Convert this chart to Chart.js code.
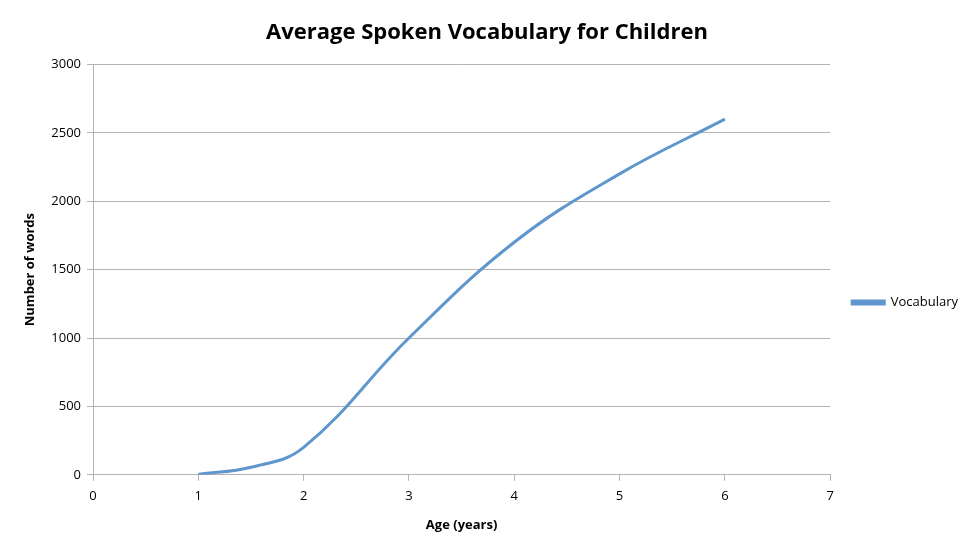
<!DOCTYPE html>
<html>
<head>
<meta charset="utf-8">
<script src="https://cdn.jsdelivr.net/npm/chart.js@4/dist/chart.umd.min.js"></script>
<style>
  html, body { margin: 0; padding: 0; background: #fff; }
  #wrap { width: 975px; height: 555px; }
</style>
</head>
<body>
<div id="wrap"><canvas id="chart" width="975" height="555"></canvas></div>
<script>
// data
const ages = [1, 1.5, 2, 3, 4, 5, 6];
const vocabulary = [3, 55, 200, 1000, 1700, 2200, 2600];
const seriesName = 'Vocabulary';
const chartTitle = 'Average Spoken Vocabulary for Children';
const xTitle = 'Age (years)';
const yTitle = 'Number of words';

const fontFamily = '"Open Sans", "Liberation Sans", sans-serif';
const lineColor = '#5e96cd';
const gridColor = '#b3b3b3';

const points = ages.map((a, i) => ({x: a, y: vocabulary[i]}));

function drawVocabChart(ctx) {
    new Chart(ctx, {
        type: 'line',
        data: {
            datasets: [{
                label: seriesName,
                data: points,
                borderColor: lineColor,
                backgroundColor: lineColor,
                borderWidth: 3,
                pointRadius: 0,
                tension: 0.4,
                fill: false
            }]
        },
        options: {
            responsive: false,
            animation: false,
            layout: {
                padding: {left: 6, right: 7, top: 10, bottom: 18}
            },
            plugins: {
                title: {
                    display: true,
                    text: chartTitle,
                    color: '#000',
                    font: {family: fontFamily, size: 22, weight: 'bold'},
                    padding: {top: 10, bottom: 18}
                },
                legend: {
                    position: 'right',
                    title: {
                        display: true,
                        text: '',
                        font: {size: 1},
                        padding: {top: 57, bottom: 0}
                    },
                    labels: {
                        boxWidth: 32,
                        boxHeight: 3,
                        padding: 22,
                        color: '#000',
                        font: {family: fontFamily, size: 13}
                    }
                },
                tooltip: {enabled: false}
            },
            scales: {
                x: {
                    type: 'linear',
                    min: 0,
                    max: 7,
                    ticks: {
                        stepSize: 1,
                        color: '#000',
                        padding: 8,
                        font: {family: fontFamily, size: 13}
                    },
                    grid: {
                        drawOnChartArea: false,
                        color: gridColor,
                        tickLength: 6
                    },
                    border: {color: gridColor},
                    title: {
                        display: true,
                        text: xTitle,
                        color: '#000',
                        padding: {top: 5},
                        font: {family: fontFamily, size: 13, weight: 'bold'}
                    }
                },
                y: {
                    min: 0,
                    max: 3000,
                    ticks: {
                        stepSize: 500,
                        color: '#000',
                        padding: 6,
                        font: {family: fontFamily, size: 13},
                        callback: v => String(v)
                    },
                    grid: {
                        color: gridColor,
                        tickLength: 6
                    },
                    border: {color: gridColor},
                    title: {
                        display: true,
                        text: yTitle,
                        color: '#000',
                        padding: {top: 16, bottom: 6},
                        font: {family: fontFamily, size: 13, weight: 'bold'}
                    },
                    afterFit: function (scale) {
                        scale.width = 87;
                    }
                }
            }
        }
    });
}

drawVocabChart(document.getElementById('chart'));
</script>
</body>
</html>
